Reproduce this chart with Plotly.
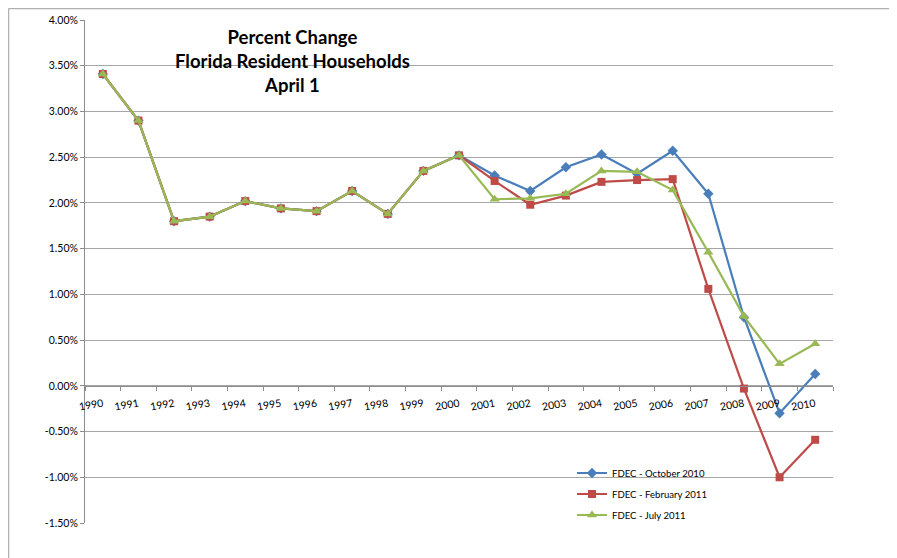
import plotly.graph_objects as go

years = [str(y) for y in range(1990, 2011)]
oct_2010 = [3.41, 2.90, 1.80, 1.85, 2.02, 1.94, 1.91, 2.13, 1.88, 2.35, 2.52,
            2.30, 2.13, 2.39, 2.53, 2.32, 2.57, 2.10, 0.75, -0.30, 0.13]
feb_2011 = [3.41, 2.90, 1.80, 1.85, 2.02, 1.94, 1.91, 2.13, 1.88, 2.35, 2.52,
            2.24, 1.98, 2.08, 2.23, 2.25, 2.26, 1.06, -0.03, -1.00, -0.59]
jul_2011 = [3.41, 2.90, 1.80, 1.85, 2.02, 1.94, 1.91, 2.13, 1.88, 2.35, 2.52,
            2.04, 2.05, 2.10, 2.35, 2.34, 2.14, 1.46, 0.76, 0.24, 0.46]
series_names = ["FDEC - October 2010", "FDEC - February 2011", "FDEC - July 2011"]
y_tickvals = [4.0, 3.5, 3.0, 2.5, 2.0, 1.5, 1.0, 0.5, 0.0, -0.5, -1.0, -1.5]
y_ticktext = ["4.00%", "3.50%", "3.00%", "2.50%", "2.00%", "1.50%", "1.00%",
              "0.50%", "0.00%", "-0.50%", "-1.00%", "-1.50%"]
title_lines = ["Percent Change", "Florida Resident Households", "April 1"]

FONT = "Lato, 'Open Sans', sans-serif"
colors = ["#4A7EBB", "#BE4B48", "#98B954"]
symbols = ["diamond", "square", "triangle-up"]
sizes = [8, 8, 9]
legend_ids = ["legend", "legend2", "legend3"]
legend_rows_px = [473, 494, 515]

# page has an 8px body margin; work in div coordinates
OFF = 8
W, H = 897 - OFF, 558 - OFF
PL, PR, PT, PB = 85 - OFF, 833 - OFF, 20 - OFF, 523 - OFF
PW, PH = PR - PL, PB - PT


def px_x(x):
    return (x - OFF - PL) / PW


def px_y(y):
    return (PB - (y - OFF)) / PH


fig = go.Figure()
for name, vals, c, s, sz, lg in zip(series_names, [oct_2010, feb_2011, jul_2011],
                                    colors, symbols, sizes, legend_ids):
    fig.add_trace(go.Scatter(
        x=years, y=vals, mode="lines+markers", name=name, legend=lg,
        line=dict(color=c, width=2.2),
        marker=dict(symbol=s, size=sz, color=c),
    ))

YMIN, YMAX = -1.5, 4.0
zero_pos = (0 - YMIN) / (YMAX - YMIN)

legend_layout = {}
for lg, ypx in zip(legend_ids, legend_rows_px):
    legend_layout[lg] = dict(
        x=px_x(572), y=px_y(ypx), xanchor="left", yanchor="middle",
        bgcolor="rgba(0,0,0,0)", font=dict(size=9.6, family=FONT),
        itemwidth=30,
    )

fig.update_layout(
    width=W, height=H,
    margin=dict(l=PL, r=W - PR, t=PT, b=H - PB),
    paper_bgcolor="white", plot_bgcolor="white",
    font=dict(family=FONT, size=10, color="#000000"),
    showlegend=True,
    xaxis=dict(
        type="category", anchor="free", position=zero_pos,
        showgrid=False, showline=True, linecolor="#8c8c8c", linewidth=1,
        ticks="outside", ticklen=4, tickcolor="#8c8c8c", tickson="boundaries",
        tickangle=-10, tickfont=dict(size=10.5, family=FONT),
        ticklabelstandoff=7,
        range=[-0.5, 20.5], zeroline=False, automargin=False,
    ),
    yaxis=dict(
        range=[YMIN, YMAX], tickvals=y_tickvals, ticktext=y_ticktext,
        showgrid=True, gridcolor="#a6a6a6", gridwidth=1,
        showline=True, linecolor="#8c8c8c", linewidth=1,
        ticks="outside", ticklen=4, tickcolor="#8c8c8c",
        tickfont=dict(size=10.5, family=FONT), zeroline=False, automargin=False,
    ),
    **legend_layout,
)

fig.add_annotation(
    x=px_x(292), y=px_y(61), xref="paper", yref="paper",
    text="<br>".join("<b>%s</b>" % t for t in title_lines),
    showarrow=False, font=dict(size=18.5, family=FONT, color="#000000"),
    align="center", xanchor="center", yanchor="middle",
)

# chart frame (top and left visible)
fig.add_shape(type="line", xref="paper", yref="paper",
              x0=px_x(8.5), x1=px_x(900), y0=px_y(8.5), y1=px_y(8.5),
              line=dict(color="#b0b0b0", width=1.5))
fig.add_shape(type="line", xref="paper", yref="paper",
              x0=px_x(8.5), x1=px_x(8.5), y0=px_y(8.5), y1=px_y(560),
              line=dict(color="#b0b0b0", width=1.5))

fig.write_html("out.html")
